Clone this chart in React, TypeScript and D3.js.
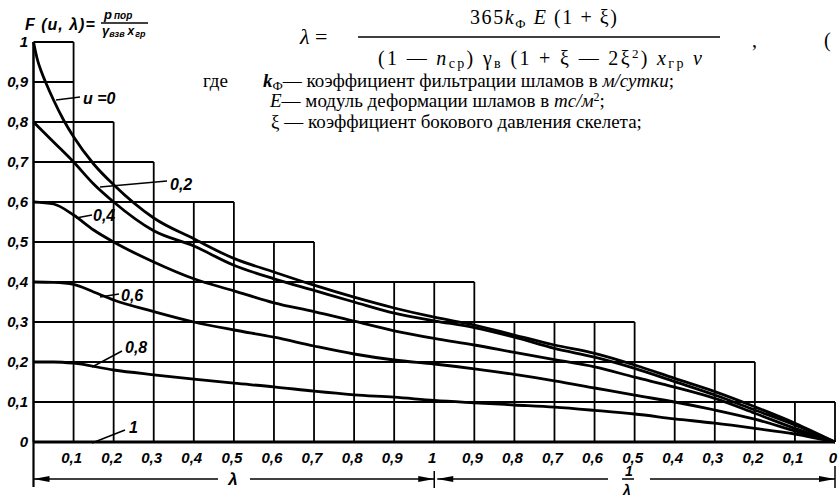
import React from 'react';
import * as d3 from 'd3';

// ступенчатая сетка номограммы: верх каждого столбца
const columnTops = [1.0, 0.8, 0.7, 0.6, 0.6, 0.5, 0.5, 0.4, 0.4, 0.4, 0.4, 0.3, 0.3, 0.3, 0.3, 0.2, 0.2, 0.2, 0.1, 0.1];
const gridLevels = [0.1, 0.2, 0.3, 0.4, 0.5, 0.6, 0.7, 0.8, 0.9, 1.0];
const gridX = [0, 0.1, 0.2, 0.3, 0.4, 0.5, 0.6, 0.7, 0.8, 0.9, 1.0, 1.1, 1.2, 1.3, 1.4, 1.5, 1.6, 1.7, 1.8, 1.9, 2.0];

const yTicks = [0, 0.1, 0.2, 0.3, 0.4, 0.5, 0.6, 0.7, 0.8, 0.9, 1.0];
const yTickLabels = ['0', '0,1', '0,2', '0,3', '0,4', '0,5', '0,6', '0,7', '0,8', '0,9', '1'];
const xTickLabels = ['0,1', '0,2', '0,3', '0,4', '0,5', '0,6', '0,7', '0,8', '0,9', '1',
  '0,9', '0,8', '0,7', '0,6', '0,5', '0,4', '0,3', '0,2', '0,1', '0'];

// кривые F(u, λ); позиция 0..1 — λ, 1..2 — 1/λ от 1 до 0
const u0Pos = [0, 0.01, 0.02, 0.03, 0.05, 0.075, 0.1, 0.15, 0.2, 0.3, 0.4, 0.5, 0.6, 0.7, 0.8, 0.9, 1.0, 1.1, 1.2, 1.3, 1.4, 1.5, 1.6, 1.7, 1.8, 1.9, 2.0];
const u0Val = [1.0, 0.955, 0.925, 0.9, 0.855, 0.805, 0.763, 0.695, 0.643, 0.56, 0.508, 0.459, 0.425, 0.392, 0.362, 0.335, 0.312, 0.2925, 0.2675, 0.2425, 0.2217, 0.1925, 0.159, 0.126, 0.088, 0.047, 0];

const u02Pos = [0, 0.05, 0.1, 0.15, 0.2, 0.3, 0.4, 0.5, 0.6, 0.7, 0.8, 0.9, 1.0, 1.1, 1.2, 1.3, 1.4, 1.5, 1.6, 1.7, 1.8, 1.9, 2.0];
const u02Val = [0.8, 0.75, 0.7, 0.645, 0.6, 0.528, 0.49, 0.442, 0.408, 0.379, 0.35, 0.322, 0.303, 0.286, 0.262, 0.234, 0.212, 0.184, 0.151, 0.1175, 0.08, 0.0425, 0];

const u04Pos = [0, 0.05, 0.1, 0.15, 0.2, 0.3, 0.4, 0.5, 0.6, 0.7, 0.8, 0.9, 1.0, 1.1, 1.2, 1.3, 1.4, 1.5, 1.6, 1.7, 1.8, 1.9, 2.0];
const u04Val = [0.6, 0.595, 0.5675, 0.53, 0.5, 0.45, 0.408, 0.378, 0.348, 0.326, 0.302, 0.278, 0.259, 0.2425, 0.224, 0.206, 0.188, 0.162, 0.137, 0.109, 0.072, 0.034, 0];

const u06Pos = [0, 0.05, 0.1, 0.15, 0.2, 0.3, 0.4, 0.5, 0.6, 0.7, 0.8, 0.9, 1.0, 1.1, 1.2, 1.3, 1.4, 1.5, 1.6, 1.7, 1.8, 1.9, 2.0];
const u06Val = [0.4, 0.399, 0.394, 0.375, 0.355, 0.326, 0.3, 0.28, 0.262, 0.24, 0.22, 0.205, 0.195, 0.183, 0.169, 0.153, 0.135, 0.117, 0.1, 0.08, 0.057, 0.028, 0];

const u08Pos = [0, 0.05, 0.1, 0.2, 0.3, 0.4, 0.5, 0.6, 0.7, 0.8, 0.9, 1.0, 1.1, 1.2, 1.3, 1.4, 1.5, 1.6, 1.7, 1.8, 1.9, 2.0];
const u08Val = [0.2, 0.2, 0.197, 0.18, 0.168, 0.157, 0.147, 0.138, 0.127, 0.118, 0.112, 0.104, 0.098, 0.0925, 0.087, 0.079, 0.07, 0.058, 0.047, 0.034, 0.02, 0];

const u1Pos = [0, 2.0];
const u1Val = [0, 0];

const tickFont = '"Liberation Sans Narrow", "Liberation Sans", "DejaVu Sans", sans-serif';
const serif = '"Liberation Serif", "DejaVu Serif", serif';

const App = () => {
  const width = 838;
  const height = 498;

  const x = d3.scaleLinear().domain([0, 2]).range([33.5, 835]);
  const y = d3.scaleLinear().domain([0, 1]).range([442, 42]);

  const line = d3.line<[number, number]>()
    .x(d => x(d[0]))
    .y(d => y(d[1]))
    .curve(d3.curveMonotoneX);

  const series: [number[], number[]][] = [
    [u0Pos, u0Val], [u02Pos, u02Val], [u04Pos, u04Val],
    [u06Pos, u06Val], [u08Pos, u08Val], [u1Pos, u1Val],
  ];

  const gridStroke = 1.8;
  const axisY = 479;

  return (
    <div style={{ position: 'absolute', left: 0, top: 0 }}>
      <svg width={width} height={height} style={{ display: 'block', background: '#fff' }}>
        {/* вертикальные линии сетки */}
        {gridX.map((gx, i) => {
          const top = Math.max(columnTops[i - 1] ?? 0, columnTops[i] ?? 0);
          return (
            <line key={'v' + i} x1={x(gx)} x2={x(gx)} y1={y(0)} y2={y(top)}
              stroke="#000" strokeWidth={gridStroke} />
          );
        })}
        {/* горизонтальные линии сетки */}
        {gridLevels.map((lv, i) => {
          const n = columnTops.filter(t => t >= lv - 1e-9).length;
          return (
            <line key={'h' + i} x1={x(0)} x2={x(gridX[n])} y1={y(lv)} y2={y(lv)}
              stroke="#000" strokeWidth={gridStroke} />
          );
        })}
        <line x1={x(0)} x2={x(2)} y1={y(0)} y2={y(0)} stroke="#000" strokeWidth={2} />
        <line x1={x(0)} x2={x(0)} y1={y(1)} y2={487} stroke="#000" strokeWidth={2.2} />

        {/* кривые */}
        {series.map(([p, v], i) => (
          <path key={'c' + i} d={line(p.map((pp, j) => [pp, v[j]] as [number, number])) || ''}
            fill="none" stroke="#000" strokeWidth={2.8} strokeLinejoin="round" />
        ))}

        {/* подписи оси Y */}
        {yTicks.map((t, i) => (
          <text key={'yt' + i} x={28} y={y(t) + 5} textAnchor="end"
            fontFamily={tickFont} fontWeight="bold" fontStyle="italic" fontSize={15}>
            {yTickLabels[i]}
          </text>
        ))}
        {/* подписи оси X */}
        {xTickLabels.map((l, i) => (
          <text key={'xt' + i} x={x(gridX[i + 1]) - 2} y={463} textAnchor="middle"
            fontFamily={tickFont} fontWeight="bold" fontStyle="italic" fontSize={15}>
            {l}
          </text>
        ))}

        {/* размерные линии λ и 1/λ */}
        <g stroke="#000" strokeWidth={1.5}>
          <line x1={x(0)} x2={218} y1={axisY} y2={axisY} />
          <line x1={250} x2={x(1)} y1={axisY} y2={axisY} />
          <line x1={x(1)} x2={x(1)} y1={471} y2={488} />
          <line x1={x(1) + 3} x2={608} y1={axisY} y2={axisY} />
          <line x1={650} x2={x(2)} y1={axisY} y2={axisY} />
          <line x1={x(2)} x2={x(2)} y1={466} y2={488} />
        </g>
        <g fill="#000">
          <polygon points={`${x(0)},${axisY} ${x(0) + 16},${axisY - 3} ${x(0) + 16},${axisY + 3}`} />
          <polygon points={`${x(1)},${axisY} ${x(1) - 16},${axisY - 3} ${x(1) - 16},${axisY + 3}`} />
          <polygon points={`${x(1) + 3},${axisY} ${x(1) + 19},${axisY - 3} ${x(1) + 19},${axisY + 3}`} />
          <polygon points={`${x(2)},${axisY} ${x(2) - 16},${axisY - 3} ${x(2) - 16},${axisY + 3}`} />
        </g>
        <text x={233} y={485} textAnchor="middle" fontFamily={tickFont} fontWeight="bold"
          fontStyle="italic" fontSize={17}>λ</text>
        <text x={629} y={476} textAnchor="middle" fontFamily={tickFont} fontWeight="bold"
          fontStyle="italic" fontSize={14}>1</text>
        <line x1={622} x2={634} y1={479} y2={479} stroke="#000" strokeWidth={1.5} />
        <text x={627} y={495} textAnchor="middle" fontFamily={tickFont} fontWeight="bold"
          fontStyle="italic" fontSize={14}>λ</text>

        {/* подписи кривых */}
        <g stroke="#000" strokeWidth={1.5}>
          <line x1={56} y1={100} x2={80} y2={97} />
          <line x1={100} y1={187} x2={167} y2={181} />
          <line x1={76} y1={218} x2={92} y2={215} />
          <line x1={100} y1={297} x2={119} y2={294} />
          <line x1={92} y1={367} x2={122} y2={351} />
          <line x1={92} y1={443} x2={125} y2={430} />
        </g>
        <g fontFamily={tickFont} fontWeight="bold" fontStyle="italic" fontSize={16}>
          <text x={83} y={104}>u =0</text>
          <text x={170} y={190}>0,2</text>
          <text x={93} y={221}>0,4</text>
          <text x={121} y={301}>0,6</text>
          <text x={125} y={353}>0,8</text>
          <text x={129} y={433}>1</text>
        </g>

        {/* заголовок оси Y */}
        <g fontFamily={tickFont} fontWeight="bold" fontStyle="italic">
          <text x={25} y={30} fontSize={16} letterSpacing={1}>F (u, λ)=</text>
          <text x={104} y={19} fontSize={13}>p<tspan fontSize={10} dx={2}>пор</tspan></text>
          <line x1={101} x2={148} y1={23} y2={23} stroke="#000" strokeWidth={1.3} />
          <text x={102} y={35} fontSize={13}>γ<tspan fontSize={9} dy={2}>взв</tspan><tspan dy={-2} dx={3} fontSize={12}>x</tspan><tspan fontSize={9} dy={2} dx={1}>гр</tspan></text>
        </g>

        {/* формула */}
        <g fontFamily={serif} fontSize={20}>
          <text x={300} y={44} fontSize={22}><tspan fontStyle="italic">λ</tspan> =</text>
          <text x={470} y={24} textLength={147} lengthAdjust="spacing">365<tspan fontStyle="italic">k</tspan><tspan fontSize={13} dy={4}>Ф</tspan><tspan dy={-4}> </tspan><tspan fontStyle="italic">E</tspan> (1 + ξ)</text>
          <line x1={358} x2={720} y1={37} y2={37} stroke="#000" strokeWidth={1.3} />
          <text x={378} y={65} textLength={324} lengthAdjust="spacing">(1 — <tspan fontStyle="italic">n</tspan><tspan fontSize={14} dy={3}>ср</tspan><tspan dy={-3}>) γ</tspan><tspan fontSize={14} dy={3}>в</tspan><tspan dy={-3}> (1 + ξ — 2ξ</tspan><tspan fontSize={13} dy={-7}>2</tspan><tspan dy={7}>) </tspan><tspan fontStyle="italic">x</tspan><tspan fontSize={14} dy={3}>гр</tspan><tspan dy={-3}> </tspan><tspan fontStyle="italic">v</tspan></text>
          <text x={752} y={47}>,</text>
          <text x={824} y={47}>(</text>
        </g>
        <g fontFamily={serif} fontSize={19}>
          <text x={203} y={87}>где</text>
          <text x={263} y={87}><tspan fontStyle="italic" fontWeight="bold">k</tspan><tspan fontSize={13} dy={3}>Ф</tspan><tspan dy={-3}>— коэффициент фильтрации шламов в </tspan><tspan fontStyle="italic">м/сутки</tspan>;</text>
          <text x={270} y={107}><tspan fontStyle="italic">E</tspan>— модуль деформации шламов в <tspan fontStyle="italic">тс/м</tspan><tspan fontSize={12} dy={-6}>2</tspan><tspan dy={6}>;</tspan></text>
          <text x={271} y={128}>ξ — коэффициент бокового давления скелета;</text>
        </g>
      </svg>
    </div>
  );
};

export default App;
